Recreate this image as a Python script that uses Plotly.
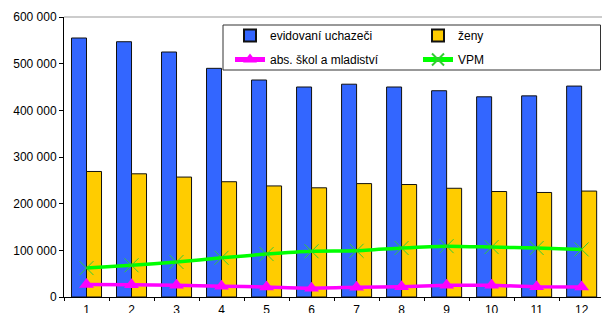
import plotly.graph_objects as go

months = [str(i) for i in range(1, 13)]
uchazeci = [555000, 547000, 525000, 490000, 465000, 450000, 456000, 450000, 442000, 429000, 431000, 452000]
zeny = [269000, 264000, 257000, 247000, 238000, 234000, 243000, 241000, 233000, 226000, 224000, 227000]
absolventi = [27000, 26500, 25000, 23000, 21500, 19000, 21000, 22000, 25000, 25000, 22000, 21500]
vpm = [62000, 68000, 75000, 84000, 92000, 98000, 99000, 105000, 109000, 107000, 105000, 102000]
y_ticks = [0, 100000, 200000, 300000, 400000, 500000, 600000]
y_labels = ["0", "100 000", "200 000", "300 000", "400 000", "500 000", "600 000"]

W, H = 602, 313
ml, mr, mt, mb = 64, 1, 17, 16
pw, ph = W - ml - mr, H - mt - mb

def px2x(px):
    return (px - ml) / pw

def px2y(py):
    return (H - mb - py) / ph

fig = go.Figure()
fig.add_trace(go.Bar(x=months, y=uchazeci, name="evidovaní uchazeči",
                     marker=dict(color="#3366FF", line=dict(color="#111", width=1)),
                     legend="legend", legendgroup="a"))
fig.add_trace(go.Bar(x=months, y=zeny, name="ženy",
                     marker=dict(color="#FFCC00", line=dict(color="#111", width=1)),
                     legend="legend2", legendgroup="b"))
fig.add_trace(go.Scatter(x=months, y=absolventi, name="abs. škol a mladiství",
                         mode="lines+markers", line=dict(color="#FF00FF", width=3.5, shape="spline", smoothing=0.5),
                         marker=dict(symbol="triangle-up", size=13, color="#FF00FF"),
                         legend="legend", legendgroup="c"))
fig.add_trace(go.Scatter(x=months, y=vpm, name="VPM",
                         mode="lines+markers", line=dict(color="#00FF00", width=3.5, shape="spline", smoothing=0.5),
                         marker=dict(symbol="x-thin", size=14, line=dict(color="#33CC33", width=1)),
                         legend="legend2", legendgroup="d"))

legend_common = dict(bgcolor="rgba(0,0,0,0)", borderwidth=0, yanchor="top", xanchor="left",
                     font=dict(family="Liberation Sans, Arial, sans-serif", size=12, color="#000"),
                     tracegroupgap=5, traceorder="grouped", itemsizing="constant")

fig.update_layout(
    width=W, height=H,
    margin=dict(l=ml, r=mr, t=mt, b=mb, pad=0, autoexpand=False),
    paper_bgcolor="white", plot_bgcolor="white",
    font=dict(family="Liberation Sans, Arial, sans-serif", size=12, color="#000"),
    barmode="group", bargap=0.333, bargroupgap=0,
    showlegend=True,
    legend=dict(x=px2x(230), y=px2y(21), **legend_common),
    legend2=dict(x=px2x(418), y=px2y(21), **legend_common),
    xaxis=dict(type="category", range=[-0.5, 11.43], showline=True, linecolor="#000", linewidth=1,
               ticks="outside", ticklen=3, tickcolor="#000", tickson="boundaries",
               showgrid=False, zeroline=False, automargin=False, ticklabelstandoff=2),
    yaxis=dict(range=[0, 600000], tickvals=y_ticks, ticktext=y_labels, showline=True,
               linecolor="#000", linewidth=1, ticks="outside", ticklen=4, tickcolor="#000",
               showgrid=False, zeroline=False, automargin=False),
    shapes=[
        dict(type="line", xref="paper", yref="paper", x0=0, x1=1.01, y0=1, y1=1,
             line=dict(color="#BBBBBB", width=1.5), layer="below"),
        dict(type="rect", xref="paper", yref="paper", x0=px2x(223), x1=px2x(600.5),
             y0=px2y(70), y1=px2y(25), line=dict(color="#333", width=1),
             fillcolor="white", layer="below"),
    ],
)

fig.write_html("out.html", config={"displayModeBar": False},
               post_script="document.body.style.margin='0px';document.body.style.overflow='hidden';")
